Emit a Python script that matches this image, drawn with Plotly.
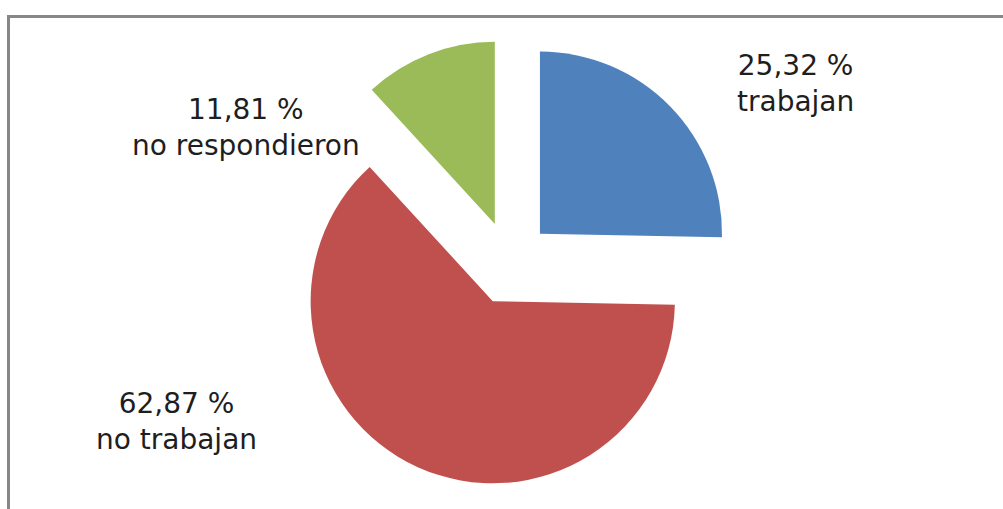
import plotly.graph_objects as go

categories = ["trabajan", "no trabajan", "no respondieron"]
values = [25.32, 62.87, 11.81]
value_labels = ["25,32 %", "62,87 %", "11,81 %"]
colors = ["#4F81BD", "#C0504D", "#9BBB59"]

W, H = 1003, 509

fig = go.Figure()
fig.add_trace(go.Pie(
    labels=categories,
    values=values,
    sort=False,
    direction="clockwise",
    rotation=0,
    pull=[0.23, 0.23, 0.23],
    marker=dict(colors=colors, line=dict(width=0)),
    textinfo="none",
    hoverinfo="label+percent",
    showlegend=False,
    domain=dict(x=[(510 - 224) / W, (510 + 224) / W],
                y=[(246 - 224) / H, (246 + 224) / H]),
))

# label positions (pixels from top-left), one per category
label_pos = [(795, 84), (176, 421), (246, 127)]
for cat, vl, (px, py) in zip(categories, value_labels, label_pos):
    fig.add_annotation(
        x=px / W, y=1 - py / H, xref="paper", yref="paper",
        text=f"{vl}<br>{cat}", showarrow=False,
        xanchor="center", yanchor="middle", align="center",
        font=dict(family="DejaVu Sans", size=28, color="#1e1e1e"),
    )

# frame (top and left edges visible)
fig.add_shape(type="line", xref="paper", yref="paper",
              x0=8.5 / W, x1=1.01, y0=1 - 16.5 / H, y1=1 - 16.5 / H,
              line=dict(color="#878787", width=3))
fig.add_shape(type="line", xref="paper", yref="paper",
              x0=8.5 / W, x1=8.5 / W, y0=1 - 15 / H, y1=-0.02,
              line=dict(color="#878787", width=3))

fig.update_layout(
    width=W, height=H,
    margin=dict(l=0, r=0, t=0, b=0),
    paper_bgcolor="white", plot_bgcolor="white",
)

fig.write_html("out.html")
